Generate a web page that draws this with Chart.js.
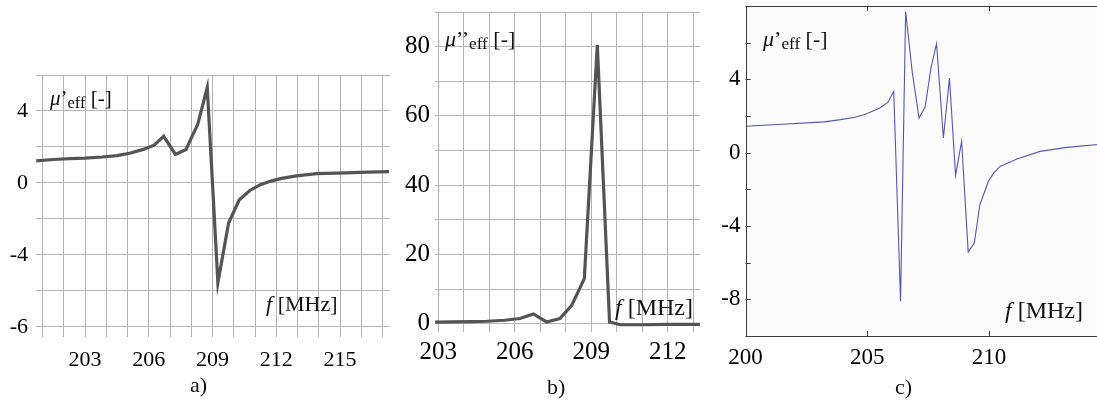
<!DOCTYPE html>
<html><head><meta charset="utf-8">
<script src="https://cdn.jsdelivr.net/npm/chart.js@4.4.1/dist/chart.umd.min.js"></script>
<style>
html,body{margin:0;padding:0;background:#fff;overflow:hidden;width:1097px;height:405px;position:relative;}
canvas{position:absolute;top:0;}
.t{position:absolute;font-family:'Liberation Serif','Times New Roman',serif;color:#111;white-space:nowrap;line-height:1;}
.t i{font-style:italic;}
.t sub{font-size:0.78em;vertical-align:-0.16em;line-height:0;}
</style></head><body>
<canvas id="ca" width="395" height="405" style="left:0"></canvas>
<canvas id="cb" width="305" height="405" style="left:400px"></canvas>
<canvas id="cc" width="400" height="405" style="left:705px"></canvas>

<div class="t" style="left:50px;top:88px;font-size:21px"><i>μ</i>’<sub>eff</sub> [-]</div>
<div class="t" style="left:266px;top:293px;font-size:22px"><i>f</i> [MHz]</div>
<div class="t" style="left:190px;top:374px;font-size:22px">a)</div>

<div class="t" style="left:445px;top:28px;font-size:22px"><i>μ</i>’’<sub>eff</sub> [-]</div>
<div class="t" style="left:615px;top:295px;font-size:24px"><i>f</i> [MHz]</div>
<div class="t" style="left:547px;top:376px;font-size:22px">b)</div>

<div class="t" style="left:763px;top:28px;font-size:22px"><i>μ</i>’<sub>eff</sub> [-]</div>
<div class="t" style="left:1005px;top:298px;font-size:24px"><i>f</i> [MHz]</div>
<div class="t" style="left:895px;top:376px;font-size:22px">c)</div>

<script>
// ---- Data ----
// a) real part of effective permeability
const freqA   = [200.7, 201.5, 202.3, 203.0, 203.8, 204.5, 205.1, 205.7, 206.25, 206.7, 207.25, 207.75, 208.0, 208.3, 208.75, 209.25, 209.75, 210.25, 210.75, 211.25, 211.75, 212.25, 212.95, 213.9, 215.3, 216.3, 217.3];
const muRealA = [1.22, 1.30, 1.35, 1.38, 1.44, 1.52, 1.65, 1.85, 2.10, 2.59, 1.58, 1.86, 2.50, 3.25, 5.30, -5.55, -2.25, -0.95, -0.42, -0.10, 0.10, 0.25, 0.39, 0.51, 0.56, 0.60, 0.63];
const xTicksA = [203, 206, 209, 212, 215];
const yTickValuesA = [4, 0, -4, -8];
const yTickLabelsA = ['4', '0', '-4', '-6'];

// b) imaginary part of effective permeability
const freqB   = [202.87, 203.6, 204.3, 204.9, 205.6, 206.2, 206.73, 207.25, 207.77, 208.23, 208.73, 209.24, 209.72, 210.15, 211.0, 212.0, 213.27];
const muImagB = [0.45, 0.5, 0.6, 0.7, 1.0, 1.5, 2.8, 0.5, 1.5, 5.2, 13.0, 80.5, 0.5, -0.3, -0.3, -0.2, -0.2];
const xTicksB = [203, 206, 209, 212];
const yTicksB = [0, 20, 40, 60, 80];

// c) real part of effective permeability (simulation)
const freqC   = [200.0, 201.5, 203.24, 203.9, 204.5, 204.9, 205.5, 205.85, 206.09, 206.37, 206.58, 206.85, 207.13, 207.38, 207.62, 207.85, 208.13, 208.38, 208.63, 208.88, 209.15, 209.4, 209.63, 209.98, 210.2, 210.46, 211.15, 212.1, 213.2, 214.7];
const muRealC = [1.44, 1.55, 1.68, 1.80, 1.93, 2.08, 2.42, 2.74, 3.35, -8.10, 7.70, 4.40, 1.89, 2.49, 4.62, 5.95, 0.80, 4.07, -1.24, 0.62, -5.42, -4.93, -2.84, -1.56, -1.10, -0.75, -0.35, 0.07, 0.29, 0.47];
const xTicksC = [200, 205, 210];
const yTicksC = [4, 0, -4, -8];

const pts = (xs, ys) => xs.map((x, i) => ({x, y: ys[i]}));
const FONT = 'Liberation Serif';
const GRID = '#b4b4b4';
const fixW = w => s => { s.width = w; s.paddingTop = 0; s.paddingBottom = 0; };
const fixH = h => s => { s.height = h; s.paddingLeft = 0; s.paddingRight = 0; };

function gridPanel(id, xs, ys, o) {
  new Chart(document.getElementById(id), {
    type: 'line',
    data: {datasets: [{data: pts(xs, ys), borderColor: '#545454', borderWidth: 3.2, pointRadius: 0, tension: 0, fill: false, borderJoinStyle: 'miter'}]},
    options: {
      responsive: false, animation: false, devicePixelRatio: 1,
      plugins: {legend: {display: false}, tooltip: {enabled: false}},
      layout: {padding: o.pad},
      scales: {
        x: {
          type: 'linear', min: o.xmin, max: o.xmax,
          afterFit: fixH(o.xh),
          border: {display: false},
          grid: {color: GRID, lineWidth: 1, drawTicks: false},
          ticks: {stepSize: 1, includeBounds: false, padding: o.xpad, autoSkip: false, maxRotation: 0, color: '#000',
                  font: {family: FONT, size: o.fs},
                  callback: v => o.xt.includes(v) ? String(v) : ''}
        },
        y: {
          min: o.ymin, max: o.ymax,
          afterFit: fixW(o.yw),
          border: {display: false},
          grid: {color: GRID, lineWidth: 1, drawTicks: false},
          ticks: {stepSize: o.ystep, includeBounds: false, padding: o.ypad, autoSkip: false, color: '#000',
                  font: {family: FONT, size: o.fs},
                  callback: o.ycb}
        }
      }
    }
  });
}

gridPanel('ca', freqA, muRealA, {
  pad: {left: 0, right: 5, top: 75, bottom: 0}, xh: 68, yw: 36,
  xmin: 200.69, xmax: 217.35, ymin: -8.57, ymax: 6, ystep: 2,
  xt: xTicksA, xpad: 10, ypad: 8, fs: 22,
  ycb: v => { const i = yTickValuesA.indexOf(v); return i >= 0 ? yTickLabelsA[i] : ''; }
});

gridPanel('cb', freqB, muImagB, {
  pad: {left: 0, right: 5, top: 12, bottom: 0}, xh: 73, yw: 35,
  xmin: 202.87, xmax: 213.27, ymin: -2.4, ymax: 90, ystep: 10,
  xt: xTicksB, xpad: 5, ypad: 5, fs: 25,
  ycb: v => yTicksB.includes(v) ? String(v) : ''
});

const frameTicks = {
  id: 'frameTicks',
  beforeDraw(chart) {
    const {ctx, chartArea: a} = chart;
    ctx.save(); ctx.fillStyle = '#fbfbfb';
    ctx.fillRect(a.left, a.top, a.right - a.left, a.bottom - a.top); ctx.restore();
  },
  afterDraw(chart) {
    const {ctx, chartArea: a, scales: {x, y}} = chart;
    ctx.save(); ctx.strokeStyle = '#3c3c3c'; ctx.lineWidth = 1;
    ctx.strokeRect(Math.round(a.left) + 0.5, Math.round(a.top) + 0.5, Math.round(a.right - a.left), Math.round(a.bottom - a.top));
    ctx.beginPath();
    x.ticks.forEach(t => {
      const p = Math.round(x.getPixelForValue(t.value)) + 0.5;
      ctx.moveTo(p, a.top); ctx.lineTo(p, a.top + 5);
      ctx.moveTo(p, a.bottom); ctx.lineTo(p, a.bottom - 5);
    });
    y.ticks.forEach(t => {
      const p = Math.round(y.getPixelForValue(t.value)) + 0.5;
      ctx.moveTo(a.left, p); ctx.lineTo(a.left + 5, p);
    });
    ctx.stroke(); ctx.restore();
  }
};

new Chart(document.getElementById('cc'), {
  type: 'line',
  data: {datasets: [{data: pts(freqC, muRealC), borderColor: '#5656b0', borderWidth: 1.1, pointRadius: 0, tension: 0, fill: false}]},
  options: {
    responsive: false, animation: false, devicePixelRatio: 1,
    plugins: {legend: {display: false}, tooltip: {enabled: false}},
    layout: {padding: {left: 0, right: 0, top: 6, bottom: 0}},
    scales: {
      x: {
        type: 'linear', min: 200, max: 214.77,
        afterFit: fixH(69),
        border: {display: false},
        grid: {display: false, drawTicks: false},
        ticks: {stepSize: 5, includeBounds: false, padding: 8, autoSkip: false, maxRotation: 0, color: '#000',
                font: {family: FONT, size: 23},
                callback: v => xTicksC.includes(v) ? String(v) : ''}
      },
      y: {
        min: -10, max: 8,
        afterFit: fixW(40.5),
        border: {display: false},
        grid: {display: false, drawTicks: false},
        ticks: {stepSize: 2, includeBounds: false, padding: 5, autoSkip: false, color: '#000',
                font: {family: FONT, size: 23},
                callback: v => yTicksC.includes(v) ? String(v) : ''}
      }
    }
  },
  plugins: [frameTicks]
});
</script>
</body></html>
